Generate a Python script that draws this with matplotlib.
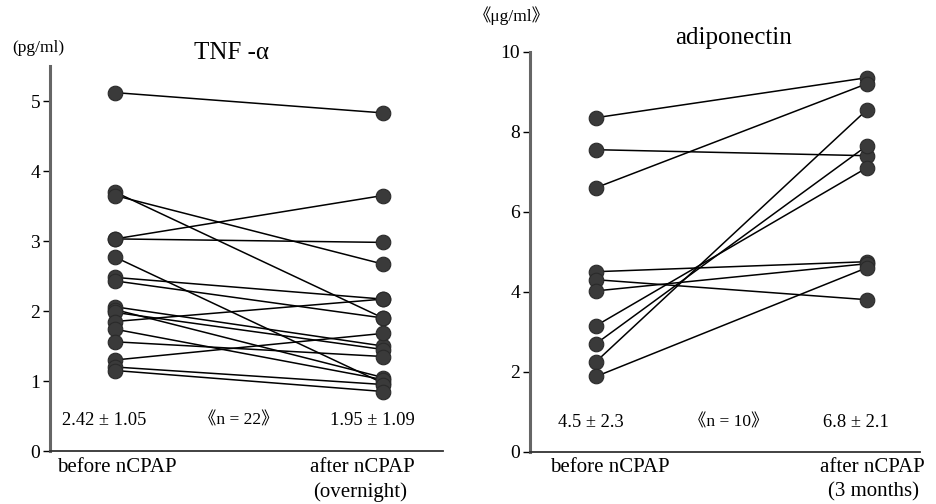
import matplotlib
matplotlib.use("Agg")
import matplotlib.pyplot as plt

plt.rcParams['font.family'] = ['Liberation Serif', 'Noto Sans CJK JP', 'DejaVu Sans']

# ---- data ----
tnf_before = [5.12, 3.70, 3.65, 3.03, 3.03, 2.77, 2.48, 2.43, 2.06, 2.02, 1.98,
              1.85, 1.74, 1.56, 1.30, 1.20, 1.15]
tnf_after = [4.83, 1.90, 2.67, 3.65, 2.98, 0.97, 2.17, 1.90, 1.50, 1.05, 1.45,
             2.17, 1.02, 1.35, 1.68, 0.95, 0.85]
adi_before = [8.35, 7.55, 6.60, 4.50, 4.30, 4.02, 3.15, 2.70, 2.25, 1.88]
adi_after = [9.35, 7.40, 9.20, 4.75, 3.80, 4.70, 7.10, 7.65, 8.55, 4.60]

tnf_ticks = [0, 1, 2, 3, 4, 5]
adi_ticks = [0, 2, 4, 6, 8, 10]
tnf_stats = ["2.42 \u00b1 1.05", "\u300an = 22\u300b", "1.95 \u00b1 1.09"]
adi_stats = ["4.5 \u00b1 2.3", "\u300an = 10\u300b", "6.8 \u00b1 2.1"]

W, H = 936, 504
fig = plt.figure(figsize=(W / 100, H / 100), dpi=100)

LBL = 15
STAT = 13.3


def fx(x):
    return x / W


def fy(y):
    return 1 - y / H


def make_axes(left, right, top, bottom):
    ax = fig.add_axes([fx(left), fy(bottom), fx(right - left), (bottom - top) / H])
    for s in ['top', 'right']:
        ax.spines[s].set_visible(False)
    ax.spines['left'].set_linewidth(2.2)
    ax.spines['left'].set_color('#666666')
    ax.spines['bottom'].set_linewidth(1.3)
    ax.spines['bottom'].set_color('#333333')
    ax.tick_params(axis='y', length=5, width=1, direction='out', labelsize=14, pad=2)
    ax.set_xticks([])
    return ax


def draw_pairs(ax, before, after):
    for b, a in zip(before, after):
        ax.plot([0, 1], [b, a], color='black', lw=1.1, zorder=2)
    ax.plot([0] * len(before), before, 'o', color='#3a3a3a', ms=10.5, zorder=3,
            mec='#2a2a2a', mew=0.8)
    ax.plot([1] * len(after), after, 'o', color='#3a3a3a', ms=10.5, zorder=3,
            mec='#2a2a2a', mew=0.8)


# ---- left panel ----
ax1 = make_axes(50, 443, 66, 451)
ax1.set_xlim((50 - 115) / 268, (443 - 115) / 268)
ax1.set_ylim(0, 5.5)
ax1.set_yticks(tnf_ticks)
draw_pairs(ax1, tnf_before, tnf_after)
ax1.text(-0.04, 0.43, tnf_stats[0], ha='center', va='center', fontsize=STAT)
ax1.text(0.46, 0.43, tnf_stats[1], ha='center', va='center', fontsize=12.5)
ax1.text(0.96, 0.43, tnf_stats[2], ha='center', va='center', fontsize=STAT)

fig.text(fx(232), fy(53), "TNF -\u03b1", ha='center', va='center', fontsize=18)
fig.text(fx(38), fy(48), "(pg/ml)", ha='center', va='center', fontsize=12.5)
fig.text(fx(117), fy(468), "before nCPAP", ha='center', va='center', fontsize=LBL)
fig.text(fx(362), fy(468), "after nCPAP", ha='center', va='center', fontsize=LBL)
fig.text(fx(360), fy(492), "(overnight)", ha='center', va='center', fontsize=LBL)

# ---- right panel ----
ax2 = make_axes(530, 920, 51.7, 451.7)
ax2.set_xlim((530 - 596) / 271, (920 - 596) / 271)
ax2.set_ylim(0, 10)
ax2.set_yticks(adi_ticks)
draw_pairs(ax2, adi_before, adi_after)
ax2.text(-0.02, 0.72, adi_stats[0], ha='center', va='center', fontsize=STAT)
ax2.text(0.49, 0.72, adi_stats[1], ha='center', va='center', fontsize=12.5)
ax2.text(0.96, 0.72, adi_stats[2], ha='center', va='center', fontsize=STAT)

fig.text(fx(733), fy(38), "adiponectin", ha='center', va='center', fontsize=18)
fig.text(fx(512), fy(16), "\u300a\u03bcg/ml\u300b", ha='center', va='center', fontsize=12.5)
fig.text(fx(610), fy(468), "before nCPAP", ha='center', va='center', fontsize=LBL)
fig.text(fx(872), fy(468), "after nCPAP", ha='center', va='center', fontsize=LBL)
fig.text(fx(873), fy(492), "(3 months)", ha='center', va='center', fontsize=LBL)

fig.savefig("out.png", dpi=100)
